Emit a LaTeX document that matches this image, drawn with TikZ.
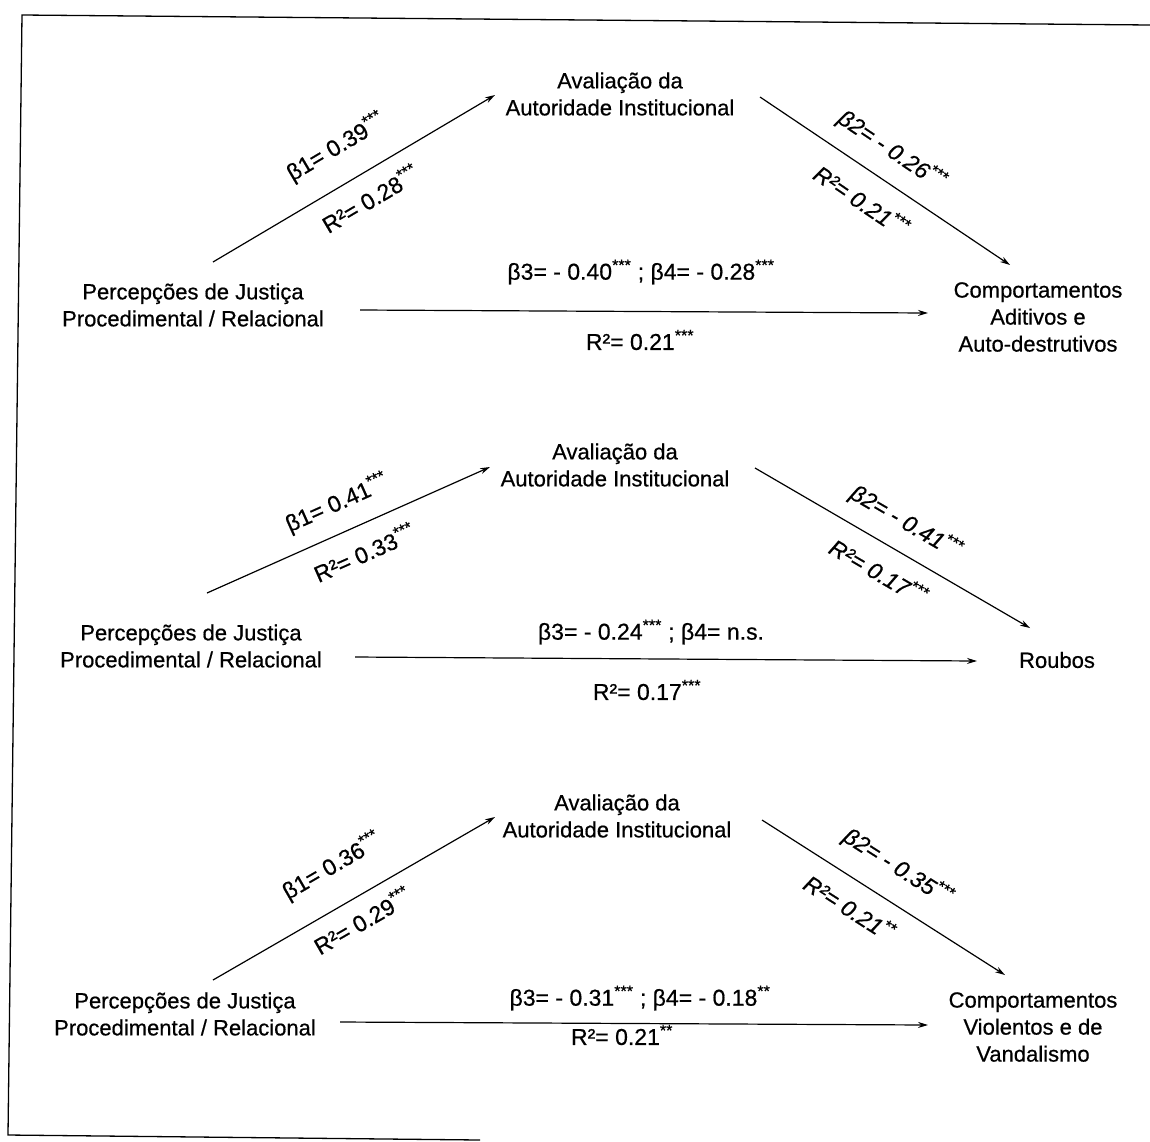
\documentclass[tikz,border=0pt]{standalone}
\usepackage{fontspec}
\setmainfont{Liberation Sans}[FakeBold=0.6]
\usetikzlibrary{arrows.meta}
\newcommand{\st}[1]{\textsuperscript{#1}}
\begin{document}
\begin{tikzpicture}[x=1pt,y=-1pt,
  box/.style={font=\fontsize{22}{27}\selectfont, align=center, inner sep=0pt},
  elab/.style={font=\fontsize{23}{27}\selectfont, inner sep=0pt},
  ilab/.style={font=\fontsize{23}{27}\selectfont\itshape, inner sep=0pt},
  arr/.style={line width=1.2pt, -{Stealth[length=10pt,width=6pt]}},
  frame/.style={line width=1.3pt}]
\useasboundingbox (0,0) rectangle (1150,1141);
\draw[frame] (480,1140) -- (8,1135) -- (22,15) -- (1150,25);

% ---------- Panel 1 ----------
\node[box] (A1) at (620,94) {Avaliação da\\Autoridade Institucional};
\node[box] (P1) at (193,305) {Percepções de Justiça\\Procedimental / Relacional};
\node[box] (C1) at (1038,317) {Comportamentos\\Aditivos e\\Auto-destrutivos};
\coordinate (p1a) at (213,262); \coordinate (a1a) at (495,95);
\coordinate (a1b) at (760,97);  \coordinate (c1a) at (1010,265);
\coordinate (p1b) at (360,310); \coordinate (c1b) at (928,313);
\draw[arr] (p1a) -- (a1a);
\draw[arr] (a1b) -- (c1a);
\draw[arr] (p1b) -- (c1b);
\node[elab, rotate=30.6] (b1l1) at (336,147) {β1= 0.39\st{***}};
\node[elab, rotate=30.6] (r1l1) at (370,198) {R²= 0.28\st{***}};
\node[ilab, rotate=-34] (b2l1) at (892,150) {β2= - 0.26\st{***}};
\node[ilab, rotate=-34] (r2l1) at (862,200) {R²= 0.21\st{***}};
\node[elab] (b3l1) at (641,272) {β3= - 0.40\st{***} ; β4= - 0.28\st{***}};
\node[elab] (r3l1) at (640,340) {R²= 0.21\st{***}};

% ---------- Panel 2 ----------
\node[box] (A2) at (615,465) {Avaliação da\\Autoridade Institucional};
\node[box] (P2) at (191,646) {Percepções de Justiça\\Procedimental / Relacional};
\node[box] (C2) at (1057,660) {Roubos};
\coordinate (p2a) at (207,593); \coordinate (a2a) at (490,467);
\coordinate (a2b) at (755,468); \coordinate (c2a) at (1030,628);
\coordinate (p2b) at (355,657); \coordinate (c2b) at (977,661);
\draw[arr] (p2a) -- (a2a);
\draw[arr] (a2b) -- (c2a);
\draw[arr] (p2b) -- (c2b);
\node[elab, rotate=24] (b1l2) at (337,503) {β1= 0.41\st{***}};
\node[elab, rotate=24] (r1l2) at (364,552) {R²= 0.33\st{***}};
\node[ilab, rotate=-30.2] (b2l2) at (906,522) {β2= - 0.41\st{***}};
\node[ilab, rotate=-30.2] (r2l2) at (879,571) {R²= 0.17\st{***}};
\node[elab] (b3l2) at (651,632) {β3= - 0.24\st{***} ; β4= n.s.};
\node[elab] (r3l2) at (647,690) {R²= 0.17\st{***}};

% ---------- Panel 3 ----------
\node[box] (A3) at (617,816) {Avaliação da\\Autoridade Institucional};
\node[box] (P3) at (185,1014) {Percepções de Justiça\\Procedimental / Relacional};
\node[box] (C3) at (1033,1027) {Comportamentos\\Violentos e de\\Vandalismo};
\coordinate (p3a) at (213,980); \coordinate (a3a) at (495,817);
\coordinate (a3b) at (762,820); \coordinate (c3a) at (1005,975);
\coordinate (p3b) at (340,1022); \coordinate (c3b) at (928,1025);
\draw[arr] (p3a) -- (a3a);
\draw[arr] (a3b) -- (c3a);
\draw[arr] (p3b) -- (c3b);
\node[elab, rotate=30] (b1l3) at (332,866) {β1= 0.36\st{***}};
\node[elab, rotate=30] (r1l3) at (362,920) {R²= 0.29\st{***}};
\node[ilab, rotate=-32.5] (b2l3) at (898,867) {β2= - 0.35\st{***}};
\node[ilab, rotate=-32.5] (r2l3) at (850,907) {R²= 0.21\st{**}};
\node[elab] (b3l3) at (640,998) {β3= - 0.31\st{***} ; β4= - 0.18\st{**}};
\node[elab] (r3l3) at (622,1035) {R²= 0.21\st{**}};
\end{tikzpicture}
\end{document}
